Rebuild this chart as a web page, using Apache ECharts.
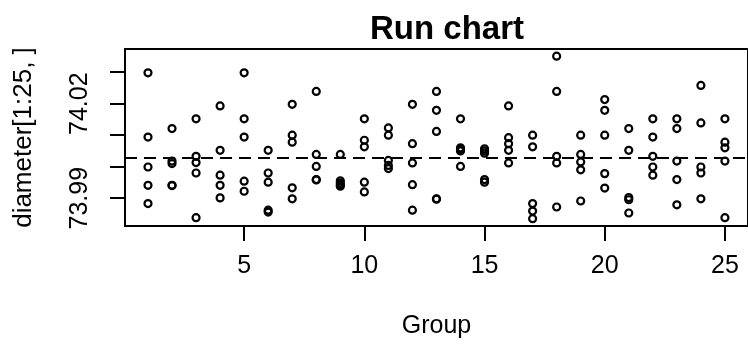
<!DOCTYPE html>
<html><head><meta charset="utf-8">
<script src="https://cdn.jsdelivr.net/npm/echarts@6/dist/echarts.min.js"></script>
<style>html,body{margin:0;padding:0;background:#fff}#c{width:748px;height:354px}</style>
</head><body><div id="c"></div>
<script>
const groups = [1,2,3,4,5,6,7,8,9,10,11,12,13,14,15,16,17,18,19,20,21,22,23,24,25];
// five readings per group (sorted high to low within each group)
const obs1 = [74.0298,74.0121,74.0152,74.0193,74.0298,74.0052,74.0198,74.0239,74.0039,74.0152,74.0123,74.0198,74.0239,74.0152,74.0057,74.0193,74.0100,74.0351,74.0100,74.0213,74.0121,74.0152,74.0152,74.0258,74.0152];
const obs2 = [74.0094,74.0018,74.0033,74.0052,74.0152,73.9980,74.0100,74.0039,73.9955,74.0084,74.0100,74.0073,74.0179,74.0060,74.0050,74.0092,74.0063,74.0239,74.0039,74.0179,74.0052,74.0094,74.0121,74.0139,74.0078];
const obs3 = [73.9999,74.0010,74.0013,73.9973,74.0094,73.9951,74.0078,74.0001,73.9948,74.0063,74.0020,74.0012,74.0112,74.0055,74.0043,74.0073,73.9883,74.0033,74.0015,74.0100,73.9902,74.0033,74.0018,73.9999,74.0060];
const obs4 = [73.9941,73.9941,73.9980,73.9941,73.9954,73.9862,73.9933,73.9959,73.9942,73.9951,74.0004,73.9943,73.9898,74.0050,73.9959,74.0052,73.9859,74.0012,73.9990,73.9978,73.9895,73.9999,73.9959,73.9980,74.0018];
const obs5 = [73.9883,73.9940,73.9838,73.9901,73.9922,73.9856,73.9898,73.9958,73.9938,73.9920,73.9994,73.9862,73.9897,74.0001,73.9951,74.0012,73.9835,73.9872,73.9891,73.9932,73.9853,73.9973,73.9879,73.9898,73.9838];
const centerLine = 74.0028;
const xTicks = [5,10,15,20,25];
const yTicks = [73.99,74.00,74.01,74.02,74.03];
const yLabels = [73.99,74.02];

const FONT = "'Liberation Sans', Arial, Helvetica, sans-serif";
const chart = echarts.init(document.getElementById('c'), null, {renderer:'canvas'});
const mk = (arr) => ({
  type:'scatter',
  data: groups.map((g,i)=>[g, arr[i]]),
  symbol:'circle', symbolSize:7,
  itemStyle:{color:'rgba(255,255,255,0)', borderColor:'#000', borderWidth:2.2, opacity:1},
  emphasis:{disabled:true},
  silent:true, animation:false, z:3
});
const series = [obs1,obs2,obs3,obs4,obs5].map(mk);
series[0].markLine = {
  silent:true, symbol:['none','none'], animation:false, precision:6,
  label:{show:false},
  lineStyle:{color:'#000', width:2, type:[12,7], opacity:1},
  emphasis:{disabled:true},
  data:[{yAxis:centerLine}]
};
chart.setOption({
  animation:false,
  backgroundColor:'#fff',
  title:{
    text:'Run chart', left:442, top:8, textAlign:'center',
    textStyle:{fontFamily:FONT, fontWeight:'bold', fontSize:33, color:'#000'}
  },
  grid:{left:125, top:49, width:629, height:177, show:true, borderColor:'#000', borderWidth:2, backgroundColor:'rgba(0,0,0,0)'},
  xAxis:{
    type:'value', min:0.0437, max:25.96,
    axisLine:{show:false}, splitLine:{show:false},
    axisTick:{show:true, customValues:xTicks, length:15, lineStyle:{color:'#000', width:2}},
    axisLabel:{customValues:xTicks, fontFamily:FONT, fontSize:25, color:'#000', margin:28},
    name:'Group', nameLocation:'middle', nameGap:88,
    nameTextStyle:{fontFamily:FONT, fontSize:25, color:'#000'}
  },
  yAxis:{
    type:'value', min:73.98117, max:74.03737,
    axisLine:{show:false}, splitLine:{show:false},
    axisTick:{show:true, customValues:yTicks, length:15, lineStyle:{color:'#000', width:2}},
    axisLabel:{customValues:yLabels, rotate:90, fontFamily:FONT, fontSize:25, color:'#000', margin:32,
      formatter:(v)=>Number(v).toFixed(2)},
    name:'diameter[1:25, ]', nameLocation:'middle', nameRotate:90, nameGap:88,
    nameTextStyle:{fontFamily:FONT, fontSize:26, color:'#000'}
  },
  series:series
});
</script></body></html>
